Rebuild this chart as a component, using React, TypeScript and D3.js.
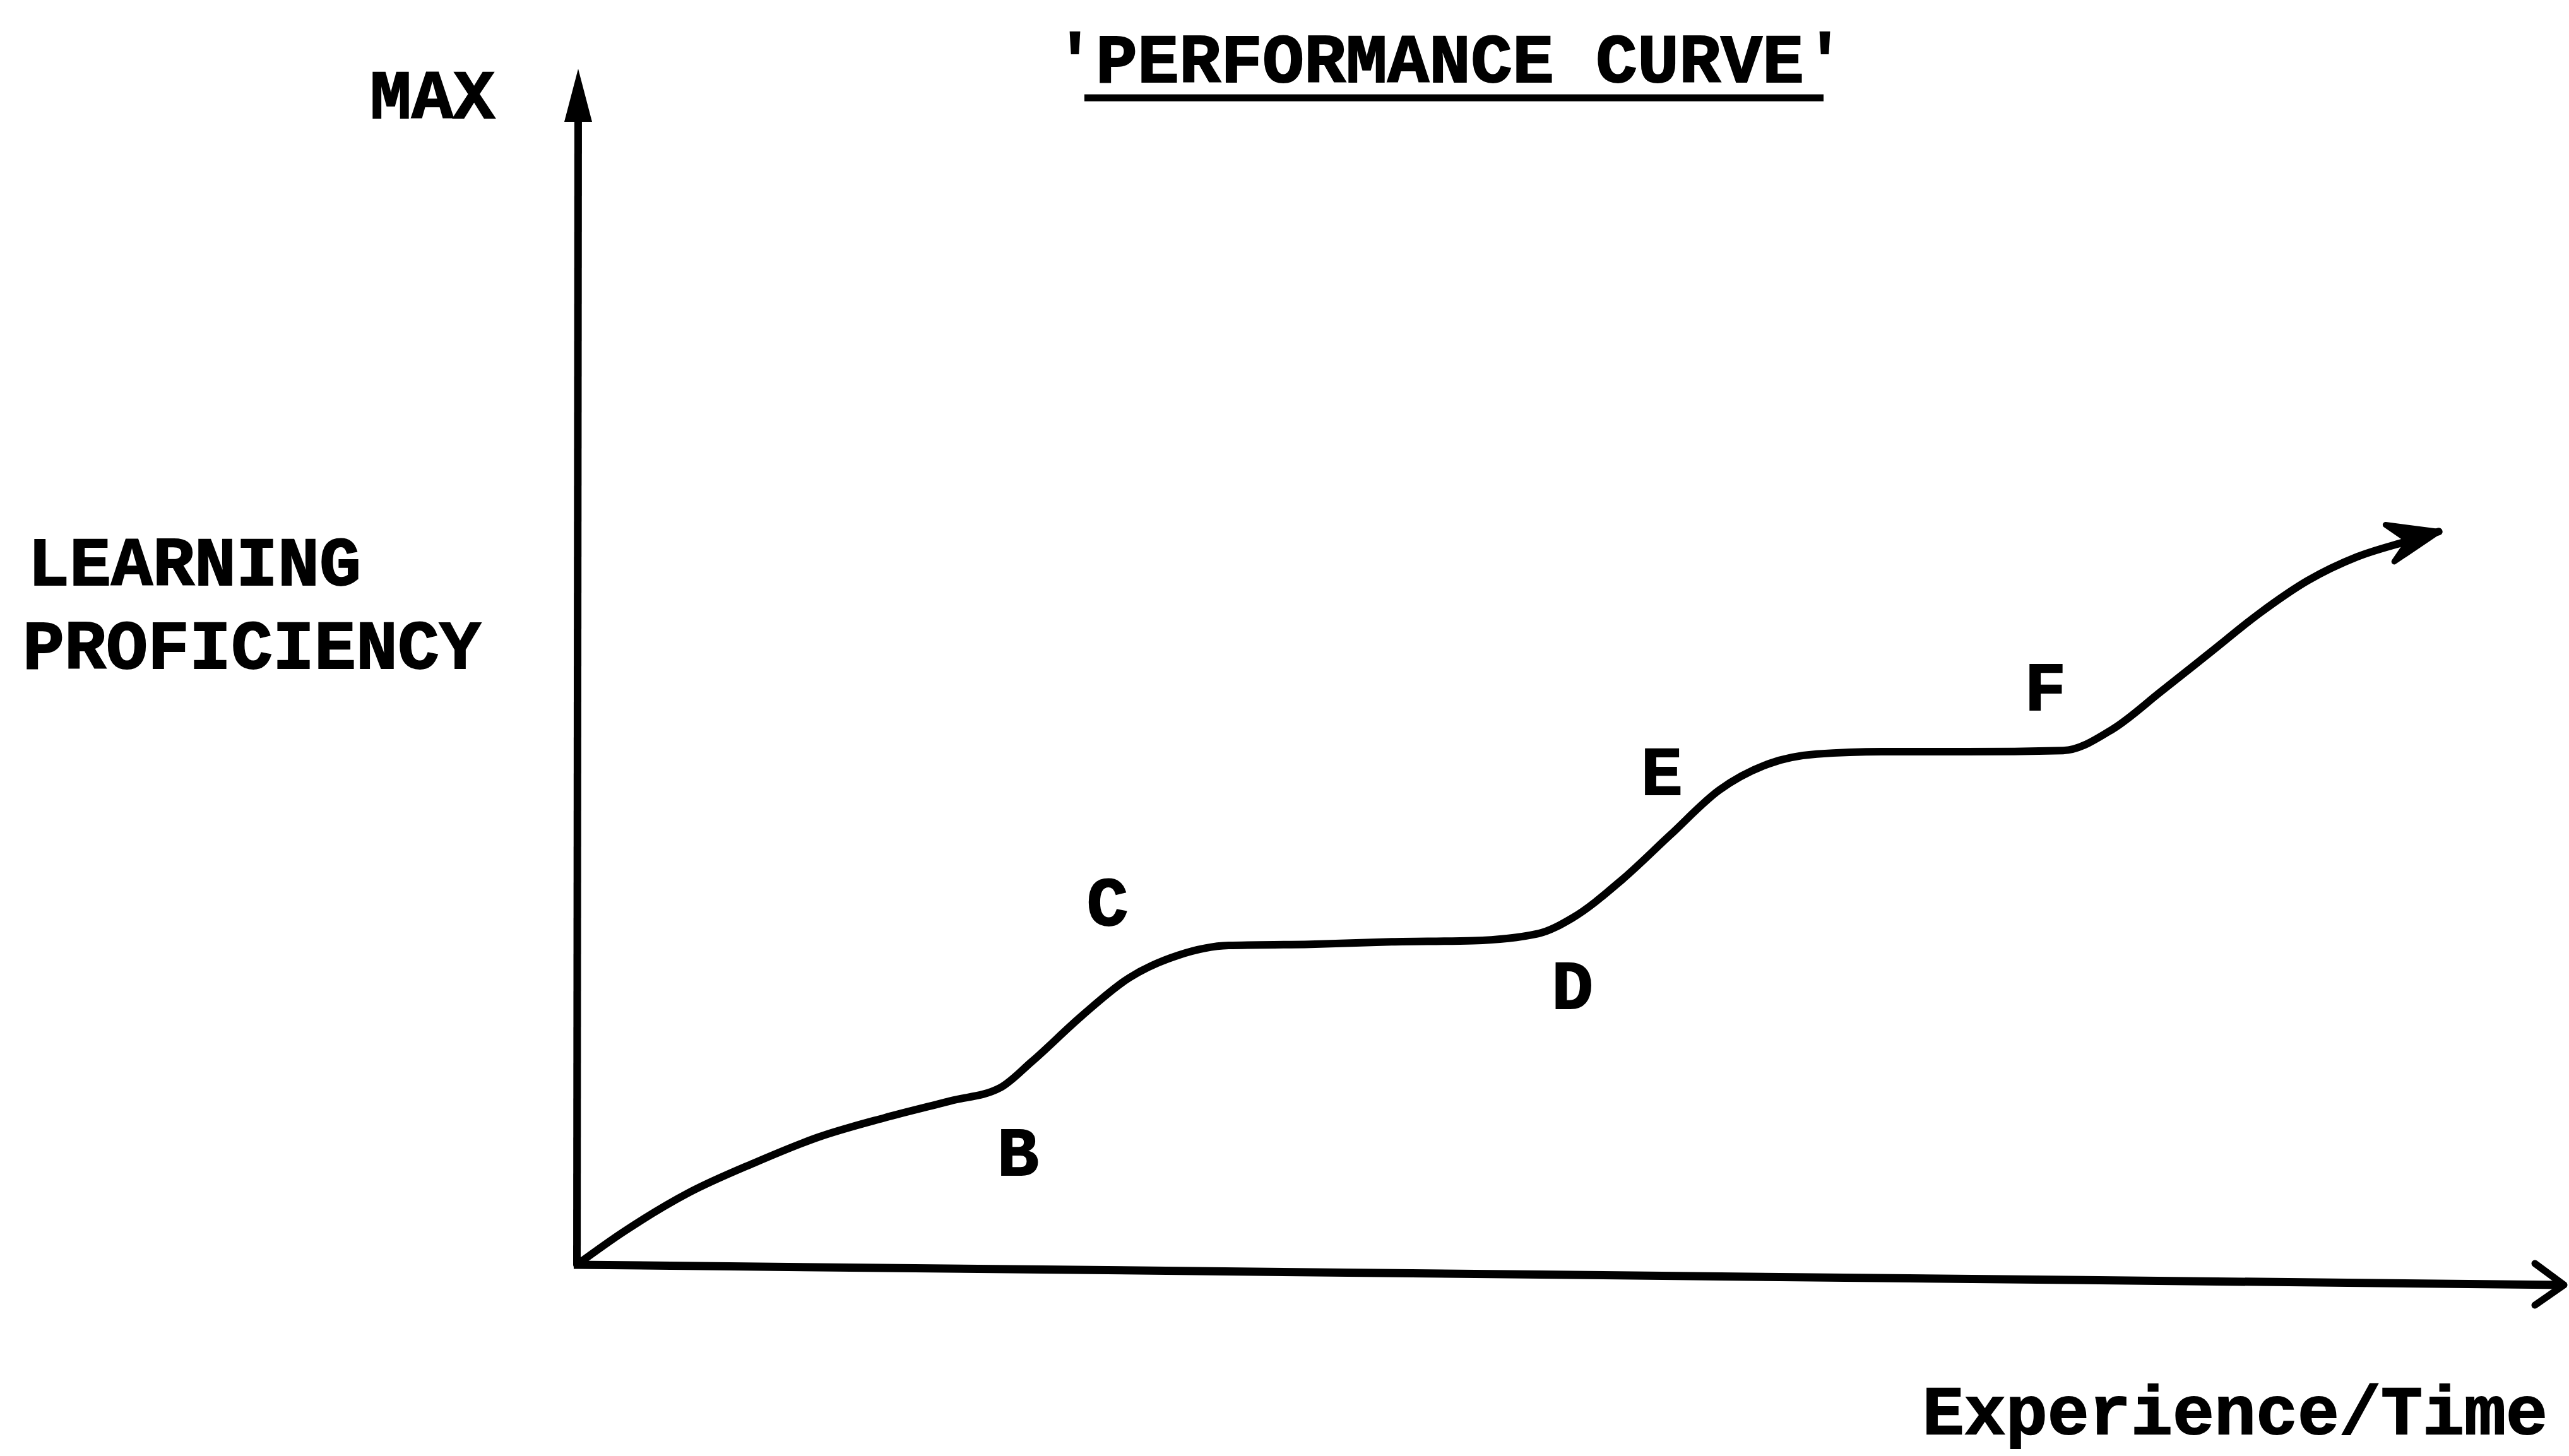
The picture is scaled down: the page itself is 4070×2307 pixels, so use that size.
import * as d3 from 'd3'
import { useEffect, useRef } from 'react'

const WIDTH = 4070
const HEIGHT = 2307
const ORIGIN_X = 914
const ORIGIN_Y = 2004
const X_END = 4062
const Y_END = 109
const X_AXIS_DROP = 32
const FONT = '"Liberation Mono", "DejaVu Sans Mono", monospace'
const FONT_SIZE = 110
const INK = '#000'

// curve (0..100 on both axes)
const experience = [0, 2.3, 5.6, 8.9, 12.2, 15.5, 18.8, 21.3, 22.9, 25.4, 27.8, 30.3, 32.8, 36.9, 41.0, 45.1, 48.4, 50.1, 52.6, 55.0, 57.5, 60.0, 62.4, 65.7, 69.9, 74.8, 77.3, 79.7, 82.2, 84.7, 87.1, 89.6, 92.1, 93.7]
const proficiency = [0, 2.7, 6.0, 8.5, 10.7, 12.3, 13.7, 14.8, 17.0, 20.8, 24.0, 25.9, 26.7, 26.8, 27.0, 27.1, 27.7, 29.0, 32.2, 35.9, 39.7, 41.9, 42.7, 42.9, 42.9, 43.0, 44.8, 47.9, 51.2, 54.5, 57.2, 59.2, 60.5, 61.3]

// stage letters and where they sit (data units, baseline)
const stageLabels = ['B', 'C', 'D', 'E', 'F']
const stageX = [22.2, 26.7, 50.1, 54.6, 73.9]
const stageY = [7.5, 28.4, 21.4, 39.3, 46.4]

const title = "'PERFORMANCE CURVE'"
const yAxisTop = 'MAX'
const yAxisLabel = ['LEARNING', 'PROFICIENCY']
const xAxisLabel = 'Experience/Time'

export default function App() {
  const svgRef = useRef<SVGSVGElement>(null)

  useEffect(() => {
    if (!svgRef.current) return
    const svg = d3.select(svgRef.current)
    svg.selectAll('*').remove()

    const x = d3.scaleLinear().domain([0, 100]).range([ORIGIN_X, X_END])
    const y = d3.scaleLinear().domain([0, 100]).range([ORIGIN_Y, Y_END])

    svg.append('rect').attr('width', WIDTH).attr('height', HEIGHT).attr('fill', '#fff')

    // typewriter-ish text: bold mono with a thin outline to thicken strokes
    const txt = (s: string, tx: number, ty: number, anchor = 'start') =>
      svg.append('text')
        .attr('x', tx)
        .attr('y', ty)
        .attr('text-anchor', anchor)
        .attr('font-family', FONT)
        .attr('font-size', FONT_SIZE)
        .attr('font-weight', 'bold')
        .attr('fill', INK)
        .attr('stroke', INK)
        .attr('stroke-width', 2)
        .text(s)

    // Title + underline
    txt(title, 2297, 130, 'middle')
    svg.append('line')
      .attr('x1', 1718).attr('x2', 2889)
      .attr('y1', 155).attr('y2', 155)
      .attr('stroke', INK).attr('stroke-width', 11)

    // Y axis with filled arrowhead
    svg.append('line')
      .attr('x1', x(0)).attr('y1', y(0))
      .attr('x2', x(0) + 2).attr('y2', y(100) + 60)
      .attr('stroke', INK).attr('stroke-width', 12)
    svg.append('path')
      .attr('d', `M${x(0) + 2},${y(100)} L${x(0) - 20},${y(100) + 84} L${x(0) + 24},${y(100) + 84} Z`)
      .attr('fill', INK)

    // X axis (drawn slightly drooping, like the original) with open arrowhead
    const xTipY = y(0) + X_AXIS_DROP
    svg.append('line')
      .attr('x1', x(0) - 5).attr('y1', y(0))
      .attr('x2', x(100)).attr('y2', xTipY)
      .attr('stroke', INK).attr('stroke-width', 13)
    svg.append('path')
      .attr('d', `M${x(100) - 46},${xTipY - 34} L${x(100)},${xTipY} L${x(100) - 46},${xTipY + 32}`)
      .attr('fill', 'none').attr('stroke', INK).attr('stroke-width', 11)
      .attr('stroke-linecap', 'round').attr('stroke-linejoin', 'round')

    // Axis labels
    txt(yAxisTop, x(0) - 130, y(100) + 78, 'end')
    txt(yAxisLabel[0], 44, 927)
    txt(yAxisLabel[1], 36, 1059)
    txt(xAxisLabel, x(100) - 26, 2272, 'end')

    // Performance curve
    const pts: [number, number][] = experience.map((e, i) => [e, proficiency[i]])
    const line = d3.line<[number, number]>()
      .x(d => x(d[0]))
      .y(d => y(d[1]))
      .curve(d3.curveMonotoneX)
    svg.append('path')
      .datum(pts)
      .attr('d', line)
      .attr('fill', 'none')
      .attr('stroke', INK)
      .attr('stroke-width', 12)
      .attr('stroke-linecap', 'round')

    // Barbed arrowhead at curve end
    const n = pts.length
    const tx = x(pts[n - 1][0]), ty = y(pts[n - 1][1])
    const px = x(pts[n - 2][0]), py = y(pts[n - 2][1])
    const ang = Math.atan2(ty - py, tx - px)
    const arm = (da: number, len: number): [number, number] =>
      [tx - len * Math.cos(ang + da), ty - len * Math.sin(ang + da)]
    const a1 = arm(-0.3, 85)
    const a2 = arm(0.42, 85)
    const notch = arm(0, 50)
    svg.append('path')
      .attr('d', `M${a1[0]},${a1[1]} L${tx},${ty} L${a2[0]},${a2[1]} L${notch[0]},${notch[1]} Z`)
      .attr('fill', INK).attr('stroke', INK).attr('stroke-width', 9)
      .attr('stroke-linejoin', 'round')

    // Stage letters
    stageLabels.forEach((s, i) => txt(s, x(stageX[i]), y(stageY[i]), 'middle'))
  }, [])

  return (
    <svg
      ref={svgRef}
      width={WIDTH}
      height={HEIGHT}
      style={{ position: 'absolute', left: 0, top: 0, display: 'block' }}
    />
  )
}
